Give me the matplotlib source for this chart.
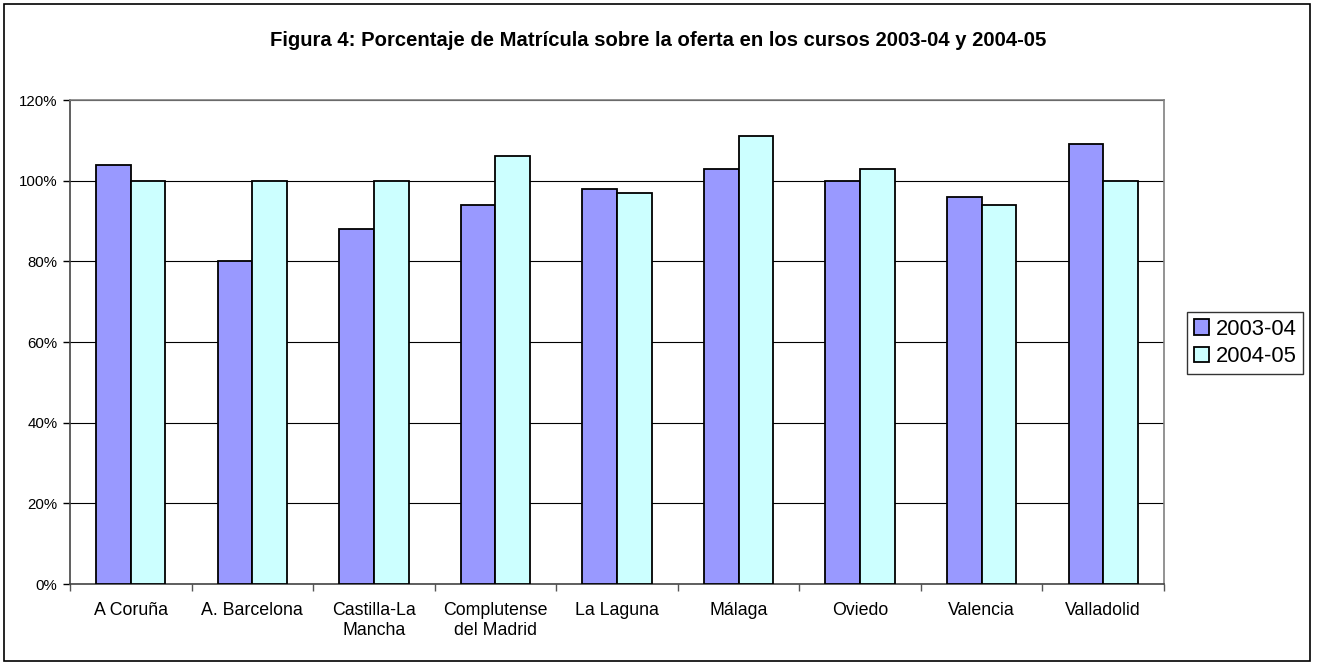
import matplotlib.pyplot as plt
import numpy as np
from matplotlib.patches import Rectangle
from matplotlib.ticker import FuncFormatter

plt.rcParams['font.family'] = ['Liberation Sans', 'DejaVu Sans']

# data
universidades = ["A Coruña", "A. Barcelona", "Castilla-La\nMancha", "Complutense\ndel Madrid",
                 "La Laguna", "Málaga", "Oviedo", "Valencia", "Valladolid"]
curso_0304 = [104, 80, 88, 94, 98, 103, 100, 96, 109]
curso_0405 = [100, 100, 100, 106, 97, 111, 103, 94, 100]
series_labels = ["2003-04", "2004-05"]
colors = ["#9999FF", "#CCFFFF"]

fig = plt.figure(figsize=(13.17, 6.65), dpi=100)
ax = fig.add_axes([70 / 1317, 81 / 665, (1164 - 70) / 1317, (584 - 100) / 665])

x = np.arange(len(universidades))
w = 0.285
ax.bar(x - w / 2, curso_0304, w, color=colors[0], edgecolor="black", linewidth=1.3,
       label=series_labels[0], zorder=3)
ax.bar(x + w / 2, curso_0405, w, color=colors[1], edgecolor="black", linewidth=1.3,
       label=series_labels[1], zorder=3)

ax.set_xlim(-0.5, len(universidades) - 0.5)
ax.set_ylim(0, 120)
ax.set_yticks(np.arange(0, 121, 20))
ax.yaxis.set_major_formatter(FuncFormatter(lambda v, p: f"{v:.0f}%"))
ax.yaxis.grid(True, color="black", linewidth=0.8, zorder=0)
ax.tick_params(axis="y", labelsize=10.8, length=5, direction="out", width=1, pad=4)

ax.set_xticks(x)
ax.set_xticklabels(universidades, fontsize=12.8, linespacing=1.25)
ax.set_xticks(np.arange(-0.5, len(universidades)), minor=True)
ax.tick_params(axis="x", which="major", length=0, pad=13)
ax.tick_params(axis="x", which="minor", length=5, direction="out", width=1, color="#555555")

for side in ["top", "right"]:
    ax.spines[side].set_color("#808080")
    ax.spines[side].set_linewidth(1.2)
for side in ["left", "bottom"]:
    ax.spines[side].set_color("#444444")
    ax.spines[side].set_linewidth(1.2)

fig.text(0.5, 1 - 40 / 665, "Figura 4: Porcentaje de Matrícula sobre la oferta en los cursos 2003-04 y 2004-05",
         ha="center", va="center", fontsize=14.6, fontweight="bold")

leg = fig.legend(loc="center", bbox_to_anchor=(1245 / 1317, 1 - 343 / 665), fontsize=15.8,
                 frameon=True, fancybox=False, edgecolor="black", handlelength=0.7,
                 handleheight=0.7, handletextpad=0.3, borderpad=0.3, labelspacing=0.3)
leg.get_frame().set_linewidth(1)

fig.patches.append(Rectangle((4 / 1317, 4 / 665), 1306 / 1317, 657 / 665, transform=fig.transFigure,
                             fill=False, edgecolor="black", linewidth=1.2))

fig.savefig("out.png", dpi=100)
